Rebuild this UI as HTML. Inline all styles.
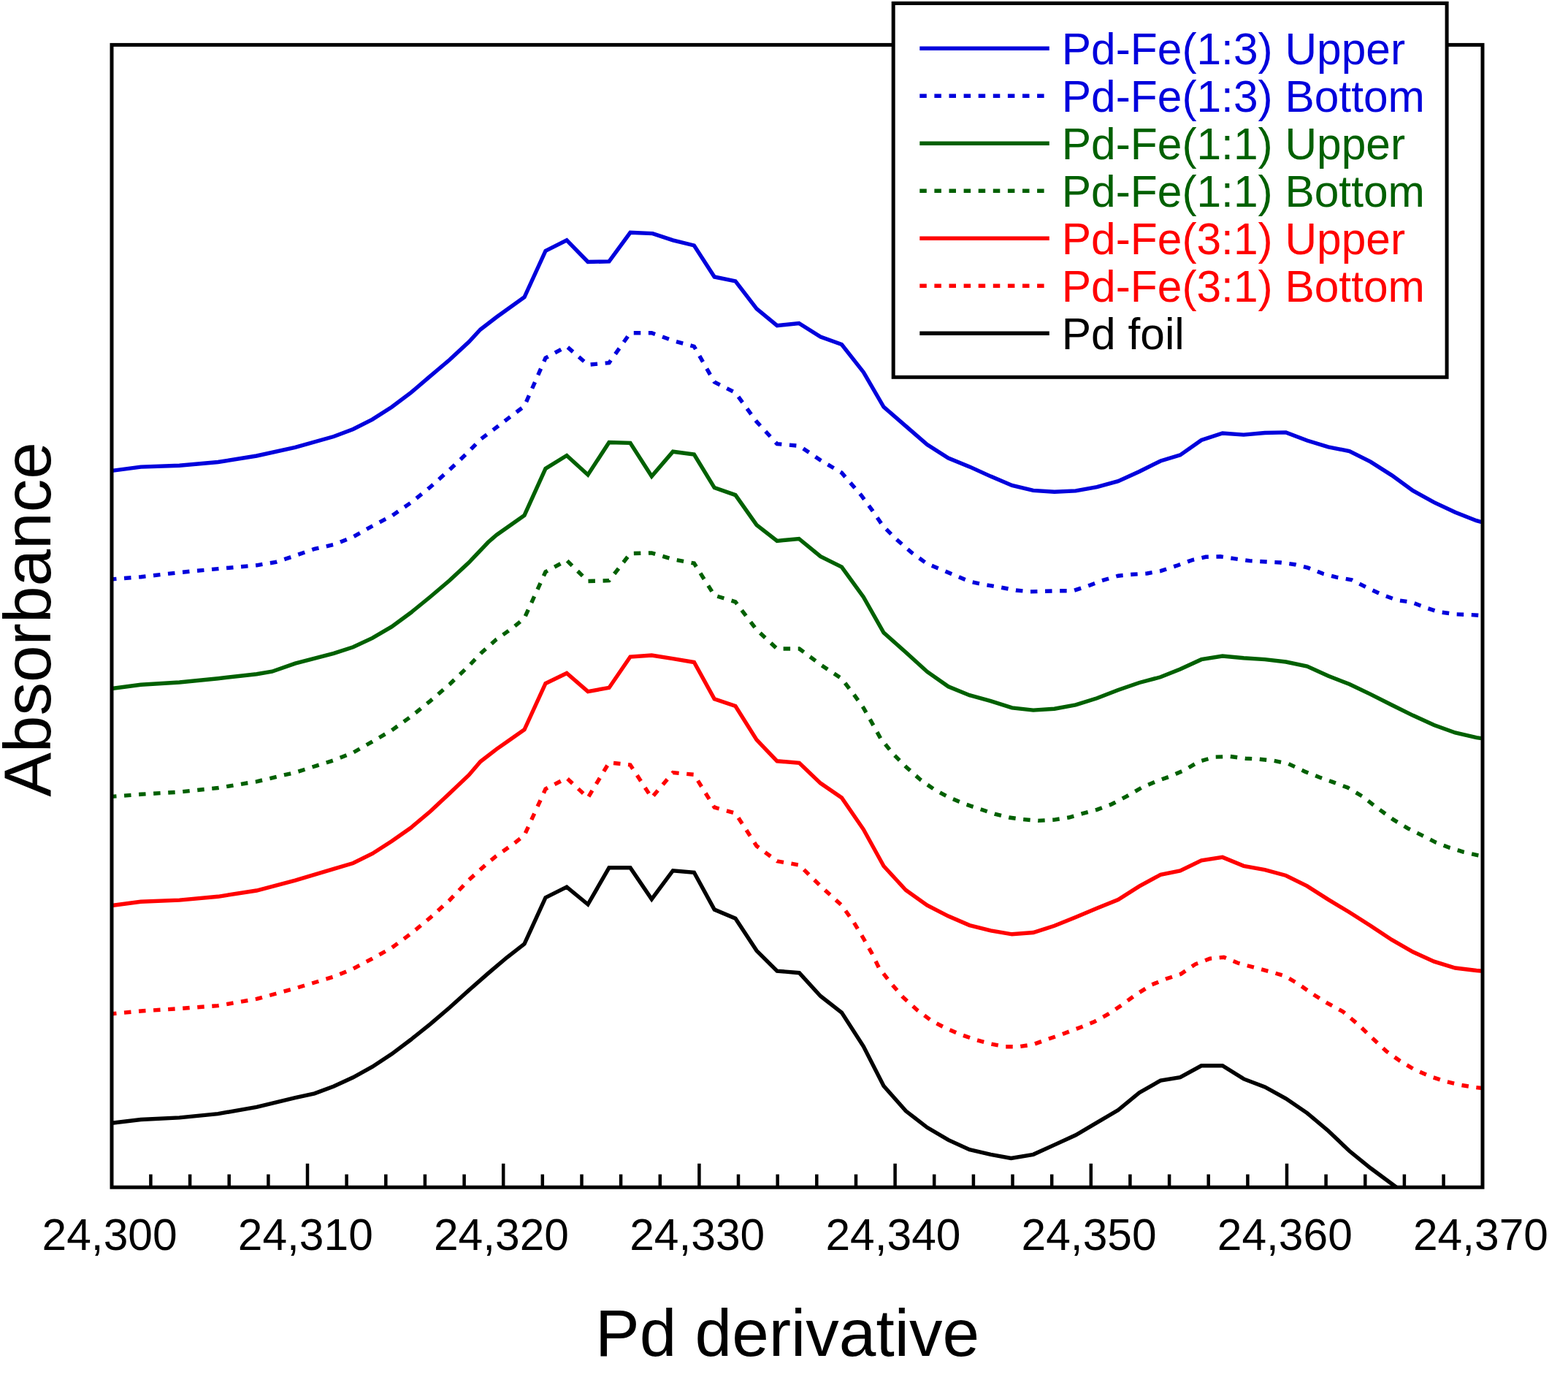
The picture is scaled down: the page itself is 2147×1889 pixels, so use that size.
<!DOCTYPE html>
<html lang="en">
<head>
<meta charset="utf-8">
<title>Pd derivative absorbance chart</title>
<style>
html,body{margin:0;padding:0;background:#ffffff;}
body{width:2147px;height:1889px;overflow:hidden;}
svg{display:block;}
text{font-family:"Liberation Sans",sans-serif;}
.curve{fill:none;stroke-linejoin:miter;stroke-linecap:butt;}
</style>
</head>
<body>
<svg width="2147" height="1889" viewBox="0 0 2147 1889" role="img" aria-label="Absorbance versus energy for Pd-Fe samples and Pd foil">
<rect x="0" y="0" width="2147" height="1889" fill="#ffffff"/>
<defs>
<clipPath id="plotclip"><rect x="153.0" y="61.4" width="1877.0" height="1563.8"/></clipPath>
<filter id="soft" filterUnits="userSpaceOnUse" x="0" y="0" width="2147" height="1889"><feGaussianBlur stdDeviation="0.6"/></filter>
</defs>
<g filter="url(#soft)">
<g clip-path="url(#plotclip)">
<polyline class="curve" stroke="#0000dc" stroke-width="5.4" points="150.0,644.6 153.2,644.4 192.8,639.1 245.7,637.3 298.5,632.5 351.4,624.0 404.2,612.4 457.0,597.5 483.5,587.5 509.9,574.1 536.3,557.2 562.7,537.4 589.1,514.9 615.6,492.5 642.0,468.0 657.8,451.0 680.0,434.0 718.0,406.8 747.0,343.4 776.0,328.9 805.0,358.5 834.0,357.9 863.0,318.3 893.6,319.6 921.4,328.9 950.4,336.0 978.2,379.0 1007.0,384.9 1036.0,422.7 1064.0,445.7 1094.0,442.5 1123.5,461.0 1152.5,471.5 1182.3,509.4 1210.0,557.0 1240.4,583.4 1269.5,608.5 1298.5,627.0 1327.6,638.9 1356.6,652.1 1385.7,664.5 1414.8,671.4 1443.8,673.3 1472.9,671.9 1502.0,666.6 1531.0,658.7 1560.0,645.5 1589.1,631.0 1616.0,622.9 1645.0,602.5 1673.9,593.0 1702.9,595.1 1731.9,592.5 1760.8,591.9 1789.8,603.0 1818.8,611.8 1847.7,617.6 1876.7,632.1 1905.7,650.6 1934.7,671.7 1963.6,687.6 1992.6,701.3 2021.6,712.7 2034.0,716.0"/>
<polyline class="curve" stroke="#0000dc" stroke-width="5.4" stroke-dasharray="9.5 10.6" points="150.0,793.2 153.2,792.9 192.8,789.7 245.7,783.6 298.5,778.6 351.4,773.8 377.8,769.4 404.2,760.6 430.6,751.4 457.0,745.5 483.5,735.0 509.9,720.0 536.3,706.2 562.7,688.0 589.1,666.8 615.6,643.0 642.0,618.0 658.5,601.0 679.6,585.2 702.0,568.0 718.0,556.0 747.0,490.0 776.0,474.2 805.0,499.3 834.0,496.6 863.0,455.7 892.3,455.7 921.4,466.3 950.4,474.2 978.2,523.0 1007.0,537.6 1036.0,577.2 1064.0,607.6 1094.4,610.3 1123.5,630.0 1152.5,647.2 1179.6,678.5 1194.2,698.4 1208.7,719.5 1227.2,738.0 1248.3,756.5 1269.5,771.8 1290.6,780.3 1309.1,788.2 1327.6,796.1 1347.4,800.1 1369.9,804.0 1391.0,808.0 1410.8,809.9 1430.6,809.3 1449.1,808.8 1468.9,808.8 1491.4,801.4 1508.6,794.8 1531.0,788.2 1550.8,786.3 1570.6,785.0 1589.1,781.6 1612.9,773.7 1632.7,766.5 1651.2,762.3 1671.0,761.8 1689.8,764.7 1711.0,767.6 1733.4,769.0 1753.2,770.0 1773.0,772.7 1791.5,777.4 1811.4,785.3 1829.9,790.1 1851.0,793.8 1873.4,805.2 1893.3,814.4 1913.1,821.5 1932.9,824.4 1951.4,831.6 1969.9,837.6 1993.7,840.8 2014.8,841.6 2034.0,843.0"/>
<polyline class="curve" stroke="#006000" stroke-width="5.4" points="150.0,942.8 153.2,942.5 192.8,937.2 245.7,934.0 298.5,928.7 351.4,922.7 372.5,919.2 404.2,908.1 457.0,894.4 483.5,885.8 509.9,873.4 536.3,857.9 562.7,838.5 589.1,817.0 615.6,794.5 642.0,770.0 668.4,742.3 680.0,732.2 718.0,705.4 747.0,641.4 776.0,623.5 805.0,649.9 834.0,605.5 863.0,606.3 892.3,652.0 921.4,618.2 950.4,622.1 978.2,667.6 1007.0,677.6 1036.0,718.6 1064.0,740.4 1094.0,737.5 1123.5,761.7 1152.5,776.2 1182.3,817.2 1210.0,866.0 1240.4,893.0 1269.5,919.5 1298.5,939.8 1327.6,951.7 1356.6,959.6 1385.7,968.9 1414.8,972.1 1443.8,970.2 1472.9,964.9 1502.0,955.7 1531.0,944.5 1560.0,934.5 1589.1,926.8 1616.0,916.0 1645.0,902.7 1673.9,898.0 1702.9,900.8 1731.9,902.6 1760.8,906.0 1789.8,912.0 1818.8,925.2 1847.7,936.5 1876.7,950.3 1905.7,965.0 1934.7,979.3 1963.6,992.5 1992.6,1003.0 2021.6,1009.6 2034.0,1011.5"/>
<polyline class="curve" stroke="#006000" stroke-width="5.4" stroke-dasharray="9.5 10.6" points="150.0,1090.6 153.2,1090.4 192.8,1087.3 245.7,1084.1 298.5,1078.5 351.4,1069.8 404.2,1057.4 457.0,1040.8 483.5,1030.2 509.9,1015.1 536.3,999.8 562.7,980.8 589.1,959.6 615.6,936.7 642.0,911.5 658.5,894.3 679.6,875.3 702.0,859.5 718.0,846.2 747.0,782.8 776.0,767.0 805.0,795.5 834.0,794.7 863.0,757.7 892.3,756.9 921.4,765.7 950.4,771.0 978.2,815.0 1007.0,823.8 1036.0,862.0 1064.0,888.0 1094.4,888.0 1123.5,909.7 1152.5,929.0 1169.0,950.4 1182.3,968.9 1192.8,987.4 1206.0,1011.2 1223.2,1032.3 1241.7,1050.8 1260.2,1067.2 1280.0,1081.2 1299.8,1091.7 1322.3,1101.0 1340.8,1107.1 1361.9,1114.2 1381.7,1119.0 1400.2,1121.6 1421.4,1123.4 1443.8,1122.1 1463.6,1119.0 1482.1,1113.7 1502.0,1108.4 1521.8,1101.0 1542.9,1089.9 1564.0,1077.7 1583.9,1069.3 1603.7,1062.2 1622.2,1054.0 1642.0,1042.3 1663.4,1036.2 1684.5,1035.5 1705.7,1038.2 1724.2,1039.2 1744.0,1041.3 1763.8,1045.3 1786.3,1055.9 1806.1,1063.8 1824.6,1070.4 1845.7,1078.3 1865.5,1090.2 1885.3,1105.5 1907.8,1121.9 1927.6,1133.8 1947.4,1143.6 1965.9,1153.1 1984.4,1160.2 2004.2,1166.3 2024.0,1170.8 2034.0,1172.5"/>
<polyline class="curve" stroke="#ff0000" stroke-width="5.4" points="150.0,1239.8 153.2,1239.5 192.8,1234.2 245.7,1232.1 298.5,1227.3 351.4,1219.0 404.2,1205.2 457.0,1189.3 483.5,1181.5 509.9,1168.5 536.3,1151.5 562.7,1133.0 589.1,1110.7 615.6,1086.0 642.0,1061.0 657.8,1042.5 680.0,1025.4 718.0,998.8 747.0,935.5 776.0,921.5 805.0,946.6 834.0,941.4 863.0,899.0 892.3,897.0 921.4,901.7 950.4,906.5 978.2,956.7 1007.0,966.5 1036.0,1012.7 1064.0,1041.8 1094.4,1044.4 1123.5,1072.1 1152.5,1092.0 1182.3,1135.3 1210.0,1185.5 1240.4,1218.5 1269.5,1239.2 1298.5,1254.1 1327.6,1266.6 1356.6,1273.9 1385.7,1278.8 1414.8,1276.5 1443.8,1267.3 1472.9,1255.4 1502.0,1243.3 1531.0,1231.6 1560.0,1213.1 1589.1,1197.3 1616.0,1192.0 1645.0,1177.9 1673.9,1173.4 1702.9,1185.3 1731.9,1190.6 1760.8,1198.5 1789.8,1212.9 1818.8,1231.4 1847.7,1248.8 1876.7,1267.3 1905.7,1286.4 1934.7,1303.0 1963.6,1316.2 1992.6,1325.0 2021.6,1328.5 2034.0,1329.5"/>
<polyline class="curve" stroke="#ff0000" stroke-width="5.4" stroke-dasharray="9.5 10.6" points="150.0,1388.0 153.2,1387.7 192.8,1384.0 245.7,1380.6 298.5,1376.6 351.4,1367.4 404.2,1352.9 457.0,1337.0 483.5,1326.0 509.9,1312.2 536.3,1297.4 562.7,1278.0 589.1,1256.2 615.6,1232.2 642.0,1204.5 668.4,1180.7 679.6,1171.7 702.0,1155.9 718.0,1143.5 747.0,1080.0 776.0,1065.0 805.0,1092.0 834.0,1043.9 863.0,1047.0 892.3,1092.0 921.4,1057.6 950.4,1060.3 978.2,1105.2 1007.0,1113.1 1036.0,1158.0 1064.0,1178.8 1094.4,1184.1 1123.5,1212.8 1152.5,1239.3 1169.0,1262.4 1182.3,1284.5 1193.5,1304.3 1203.4,1324.5 1219.3,1345.1 1236.4,1364.9 1256.2,1382.9 1274.7,1396.6 1294.5,1407.2 1314.4,1415.7 1335.5,1423.1 1356.6,1428.9 1376.5,1432.8 1395.0,1432.8 1414.8,1429.7 1434.6,1422.5 1454.4,1415.7 1478.2,1406.7 1498.0,1398.8 1516.5,1388.7 1536.3,1375.5 1554.8,1361.8 1577.3,1347.8 1597.1,1339.8 1616.9,1333.3 1636.8,1319.8 1656.6,1312.2 1675.8,1310.2 1695.1,1318.3 1717.6,1324.4 1738.7,1330.0 1758.5,1335.6 1777.0,1346.3 1796.8,1360.4 1816.6,1372.6 1839.1,1384.9 1860.2,1402.9 1878.7,1420.6 1898.5,1439.1 1917.0,1452.3 1936.9,1464.2 1960.6,1474.2 1980.4,1480.6 2000.3,1485.3 2020.1,1488.5 2034.0,1490.0"/>
<polyline class="curve" stroke="#000000" stroke-width="5.4" points="150.0,1537.6 153.2,1537.3 192.8,1532.5 245.7,1529.9 298.5,1524.6 351.4,1515.3 404.2,1502.6 430.6,1496.8 457.0,1487.0 483.5,1474.8 509.9,1460.2 536.3,1442.8 562.7,1423.0 589.1,1401.8 615.6,1379.2 642.0,1355.6 668.4,1332.4 694.2,1310.5 718.0,1292.1 747.0,1228.7 776.0,1214.2 805.0,1238.0 834.0,1187.7 863.0,1187.7 892.3,1230.8 921.4,1191.7 950.4,1194.3 978.2,1245.1 1007.0,1257.2 1036.0,1301.3 1064.0,1329.1 1094.4,1331.7 1123.5,1363.5 1152.5,1386.0 1182.3,1432.3 1210.0,1486.5 1240.4,1520.8 1269.5,1543.3 1298.5,1560.4 1327.6,1573.7 1356.6,1580.3 1384.4,1585.5 1414.8,1580.3 1443.8,1567.1 1472.9,1553.8 1502.0,1536.7 1531.0,1519.5 1560.0,1495.7 1589.1,1479.1 1616.0,1474.7 1645.0,1458.8 1673.9,1458.8 1703.0,1476.9 1732.0,1488.0 1760.8,1503.8 1789.8,1523.6 1818.8,1548.0 1847.7,1575.5 1876.7,1599.0 1905.7,1620.5 1934.7,1642.0 1963.6,1664.0"/>
</g>
<rect x="153.0" y="61.4" width="1877.0" height="1563.8" fill="none" stroke="#000" stroke-width="5.0"/>
<path d="M206.4 1625.2V1607.6M260.1 1625.2V1607.6M313.7 1625.2V1607.6M367.4 1625.2V1607.6M421.0 1625.2V1592.8M474.6 1625.2V1607.6M528.3 1625.2V1607.6M581.9 1625.2V1607.6M635.6 1625.2V1607.6M689.2 1625.2V1592.8M742.8 1625.2V1607.6M796.5 1625.2V1607.6M850.1 1625.2V1607.6M903.8 1625.2V1607.6M957.4 1625.2V1592.8M1011.0 1625.2V1607.6M1064.7 1625.2V1607.6M1118.3 1625.2V1607.6M1172.0 1625.2V1607.6M1225.6 1625.2V1592.8M1279.2 1625.2V1607.6M1332.9 1625.2V1607.6M1386.5 1625.2V1607.6M1440.2 1625.2V1607.6M1493.8 1625.2V1592.8M1547.4 1625.2V1607.6M1601.1 1625.2V1607.6M1654.7 1625.2V1607.6M1708.4 1625.2V1607.6M1762.0 1625.2V1592.8M1815.6 1625.2V1607.6M1869.3 1625.2V1607.6M1922.9 1625.2V1607.6M1976.6 1625.2V1607.6" fill="none" stroke="#000" stroke-width="4.5"/>
<g font-size="60.5" text-anchor="middle" fill="#000">
<text x="150.1" y="1710.5">24,300</text>
<text x="418.3" y="1710.5">24,310</text>
<text x="686.5" y="1710.5">24,320</text>
<text x="954.7" y="1710.5">24,330</text>
<text x="1222.9" y="1710.5">24,340</text>
<text x="1491.1" y="1710.5">24,350</text>
<text x="1759.3" y="1710.5">24,360</text>
<text x="2027.5" y="1710.5">24,370</text>
</g>
<text x="1078" y="1856" font-size="91" text-anchor="middle" fill="#000">Pd derivative</text>
<text transform="translate(69 848) rotate(-90)" font-size="91" text-anchor="middle" fill="#000">Absorbance</text>
<rect x="1223.2" y="4.5" width="757.9" height="511.8" fill="#fff" stroke="#000" stroke-width="5.0"/>
<line x1="1259.3" y1="66.3" x2="1436.8" y2="66.3" stroke="#0000dc" stroke-width="5.4"/>
<text x="1453.8" y="88.3" font-size="60.45" fill="#0000dc">Pd-Fe(1:3) Upper</text>
<line x1="1259.3" y1="131.3" x2="1436.8" y2="131.3" stroke="#0000dc" stroke-width="5.4" stroke-dasharray="9.5 10.6"/>
<text x="1453.8" y="153.3" font-size="60.45" fill="#0000dc">Pd-Fe(1:3) Bottom</text>
<line x1="1259.3" y1="196.3" x2="1436.8" y2="196.3" stroke="#006000" stroke-width="5.4"/>
<text x="1453.8" y="218.3" font-size="60.45" fill="#006000">Pd-Fe(1:1) Upper</text>
<line x1="1259.3" y1="261.3" x2="1436.8" y2="261.3" stroke="#006000" stroke-width="5.4" stroke-dasharray="9.5 10.6"/>
<text x="1453.8" y="283.3" font-size="60.45" fill="#006000">Pd-Fe(1:1) Bottom</text>
<line x1="1259.3" y1="326.3" x2="1436.8" y2="326.3" stroke="#ff0000" stroke-width="5.4"/>
<text x="1453.8" y="348.3" font-size="60.45" fill="#ff0000">Pd-Fe(3:1) Upper</text>
<line x1="1259.3" y1="391.3" x2="1436.8" y2="391.3" stroke="#ff0000" stroke-width="5.4" stroke-dasharray="9.5 10.6"/>
<text x="1453.8" y="413.3" font-size="60.45" fill="#ff0000">Pd-Fe(3:1) Bottom</text>
<line x1="1259.3" y1="456.3" x2="1436.8" y2="456.3" stroke="#000000" stroke-width="5.4"/>
<text x="1453.8" y="478.3" font-size="60.45" fill="#000000">Pd foil</text>
</g>
</svg>
</body>
</html>
